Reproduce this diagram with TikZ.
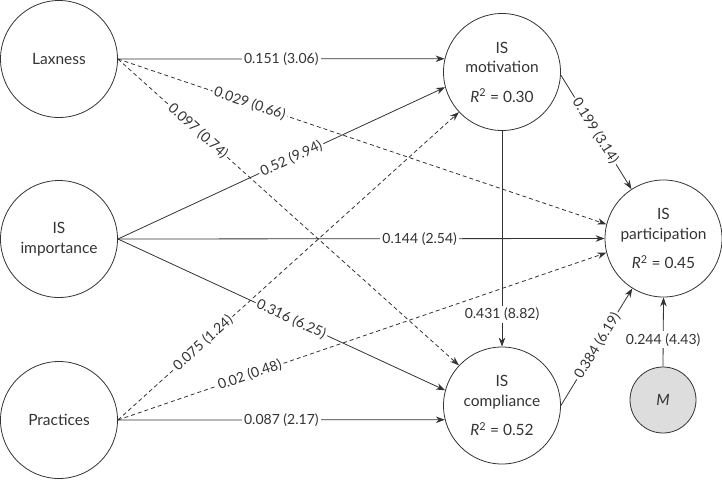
\documentclass[tikz,border=0pt]{standalone}
\usepackage{fontspec}
\setmainfont{Lato}
\usepackage{tikz}
\usetikzlibrary{arrows.meta}

\definecolor{linegray}{HTML}{333333}
\definecolor{modfill}{HTML}{DDDDDD}

\tikzset{
  latent/.style={circle,draw=linegray,line width=.8pt,minimum size=117pt,inner sep=0pt,align=center,
    font=\fontsize{15.5}{19.5}\selectfont},
  effect/.style={draw=linegray,line width=.8pt,-{Stealth[length=9pt,width=6.5pt]}},
  weak/.style={effect,dash pattern=on 4pt off 3pt},
  coef/.style={fill=white,inner sep=2pt,text=linegray}
}
\newcommand{\rsq}[1]{\textit{R}\textsuperscript{2} = #1}

\begin{document}
\begin{tikzpicture}[x=1pt,y=-1pt,font=\fontsize{14}{18}\selectfont,text=linegray]
\useasboundingbox (0,0) rectangle (722,479);

\node[latent] (lax) at (59,59) {Laxness};
\node[latent] (imp) at (59,239) {IS\\importance};
\node[latent] (prac) at (59,420) {Practices};
\node[latent] (mot) at (502,72) {IS\\motivation\\[10pt]\rsq{0.30}};
\node[latent] (comp) at (502,405.5) {IS\\compliance\\[10pt]\rsq{0.52}};
\node[latent] (part) at (663.5,238.5) {IS\\participation\\[10pt]\rsq{0.45}};
\node[latent,fill=modfill,minimum size=66pt] (mod) at (663,400) {\textit{M}};

\draw[effect] (lax.east) -- node[coef,pos=.5] {0.151 (3.06)} (mot.167);
\draw[weak] (lax.east) -- node[coef,pos=.27,sloped] {0.029 (0.66)} (part.166);
\draw[weak] (lax.east) -- node[coef,pos=.235,sloped] {0.097 (0.74)} (comp.137);
\draw[effect] (imp.east) -- node[coef,pos=.53,sloped] {0.52 (9.94)} (mot.195);
\draw[effect] (imp.east) -- node[coef,pos=.62] {0.144 (2.54)} (part.west);
\draw[effect] (imp.east) -- node[coef,pos=.53,sloped] {0.316 (6.25)} (comp.165);
\draw[weak] (prac.east) -- node[coef,pos=.25,sloped] {0.075 (1.24)} (mot.223);
\draw[weak] (prac.east) -- node[coef,pos=.27,sloped] {0.02 (0.48)} (part.194);
\draw[effect] (prac.east) -- node[coef,pos=.5] {0.087 (2.17)} (comp.194);
\draw[effect] (mot.south) -- node[coef,pos=.85] {0.431 (8.82)} (comp.north);
\draw[effect] (mot.-3) -- node[coef,pos=.49,sloped] {0.199 (3.14)} (part.123);
\draw[effect] (comp.east) -- node[coef,pos=.51,sloped] {0.384 (6.19)} (part.238);
\draw[effect] (mod.north) -- node[coef,pos=.39] {0.244 (4.43)} (part.south);
\end{tikzpicture}
\end{document}
